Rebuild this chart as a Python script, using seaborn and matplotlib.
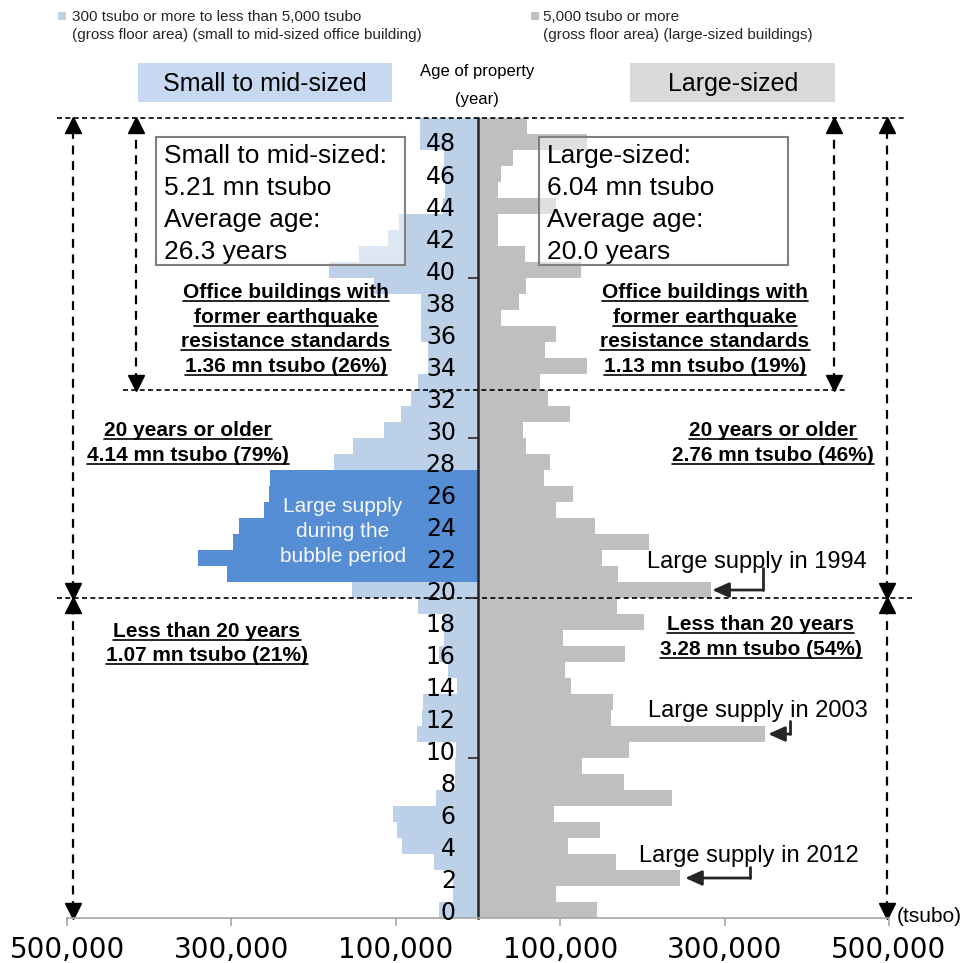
import matplotlib
matplotlib.use('Agg')
import matplotlib.pyplot as plt
from matplotlib.lines import Line2D
from matplotlib.patches import Rectangle
import pandas as pd
import seaborn as sns

sns.set_style('white')
plt.rcParams['font.family'] = ['Liberation Sans', 'DejaVu Sans']

# age of property (years) and floor area (tsubo)
ages = list(range(50))
small_mid = [48000, 31000, 31000, 54000, 92000, 99000, 104000, 51000, 28000, 28000,
             27000, 74000, 68000, 67000, 26000, 37000, 48000, 41000, 41000, 73000,
             153000, 305000, 341000, 298000, 291000, 260000, 254000, 253000, 175000, 152000,
             114000, 94000, 82000, 73000, 61000, 61000, 69000, 69000, 69000, 126000,
             181000, 145000, 110000, 96000, 42000, 40000, 42000, 41000, 70000, 70000]
large = [145000, 95000, 246000, 168000, 110000, 149000, 93000, 236000, 178000, 127000,
         184000, 349000, 162000, 164000, 113000, 106000, 179000, 104000, 202000, 169000,
         283000, 170000, 151000, 208000, 142000, 95000, 116000, 80000, 87000, 58000,
         55000, 112000, 85000, 75000, 133000, 81000, 95000, 28000, 50000, 59000,
         125000, 57000, 24000, 24000, 95000, 24000, 28000, 42000, 133000, 60000]
bubble_ages = [21, 22, 23, 24, 25, 26, 27]

xticks = [-500000, -300000, -100000, 100000, 300000, 500000]
xtick_labels = ['500,000', '300,000', '100,000', '100,000', '300,000', '500,000']
yticks = list(range(0, 50, 2))

colors = {'small': '#BCD0E8', 'bubble': '#558ED5', 'large': '#BFBFBF'}

left = pd.DataFrame({'age': ages, 'area': [-v for v in small_mid],
                     'group': ['bubble' if a in bubble_ages else 'small' for a in ages]})
right = pd.DataFrame({'age': ages, 'area': large, 'group': 'large'})
df = pd.concat([left, right], ignore_index=True)

W, H = 978, 963
fig = plt.figure(figsize=(W / 100, H / 100), dpi=100)
ax = fig.add_axes([67 / W, 45 / H, 822 / W, 800 / H])

sns.barplot(data=df, x='area', y='age', hue='group', orient='h', native_scale=True,
            dodge=False, width=1.0, palette=colors, saturation=1, linewidth=0,
            errorbar=None, legend=False, ax=ax)

ax.set_axisbelow(False)
ax.set_xlim(-500000, 500000)
ax.set_ylim(-0.5, 49.5)
ax.set_xlabel('')
ax.set_ylabel('')
ax.spines['top'].set_visible(False)
ax.spines['right'].set_visible(False)
ax.spines['left'].set_position(('data', 0))
ax.spines['left'].set_color('#262626')
ax.spines['left'].set_linewidth(1.8)
ax.spines['bottom'].set_color('#A6A6A6')
ax.spines['bottom'].set_linewidth(1.2)

ax.set_xticks(xticks)
ax.set_xticklabels(xtick_labels, family='DejaVu Sans')
ax.set_yticks(yticks)
ax.set_yticklabels([str(a) for a in yticks], family='DejaVu Sans')
ax.set_yticks([9.5, 19.5, 29.5, 39.5], minor=True)
ax.tick_params(axis='x', bottom=True, length=6, width=1.2, color='#A6A6A6',
               labelsize=20, labelcolor='black', pad=7, direction='out')
ax.tick_params(axis='y', which='major', left=True, length=0, pad=16, labelsize=17,
               labelcolor='black')
ax.tick_params(axis='y', which='minor', left=True, length=7, width=1.2,
               color='#262626', direction='out')

# dashed separators
dash = dict(color='black', lw=1.2, ls=(0, (3, 2)), clip_on=False)
ax.plot([-512000, 519000], [49.5, 49.5], **dash)
ax.plot([-432000, 450000], [32.5, 32.5], **dash)
ax.plot([-512000, 532000], [19.5, 19.5], **dash)


def span_arrow(x, y0, y1):
    ax.plot([x, x], [y0 + 0.5, y1 - 0.5], color='black', lw=1.6,
            ls=(0, (4, 3)), clip_on=False)
    ax.plot([x], [y1 - 0.45], marker='^', ms=11, color='black', clip_on=False)
    ax.plot([x], [y0 + 0.45], marker='v', ms=11, color='black', clip_on=False)


span_arrow(-493000, 19.5, 49.5)
span_arrow(-493000, -0.5, 19.5)
span_arrow(-416000, 32.5, 49.5)
span_arrow(433000, 32.5, 49.5)
span_arrow(498000, 19.5, 49.5)
span_arrow(498000, -0.5, 19.5)


def supply_arrow(age, tip, corner, top):
    ax.plot([corner, corner], [top, age], color='#262626', lw=2, clip_on=False)
    ax.annotate('', xy=(tip, age), xytext=(corner, age),
                arrowprops=dict(arrowstyle='-|>,head_length=1.0,head_width=0.45',
                                color='#262626', lw=2, shrinkA=0, shrinkB=0))


supply_arrow(20, 285000, 347000, 21.4)
supply_arrow(11, 353000, 380000, 11.8)
supply_arrow(2, 252000, 331000, 2.7)

underlined = []


def label(x, y, s, size, bold=False, ha='center', color='black', underline=False):
    t = fig.text(x / W, 1 - y / H, s, ha=ha, va='baseline', fontsize=size,
                 fontweight='bold' if bold else 'normal', color=color)
    if underline:
        underlined.append((t, y))
    return t


# legend
fig.patches.append(Rectangle((58 / W, 1 - 20 / H), 8 / W, 8 / H, transform=fig.transFigure,
                             facecolor=colors['small'], edgecolor='none'))
fig.patches.append(Rectangle((531 / W, 1 - 20 / H), 8 / W, 8 / H, transform=fig.transFigure,
                             facecolor=colors['large'], edgecolor='none'))
label(72, 21, '300 tsubo or more to less than 5,000 tsubo', 11, ha='left', color='#262626')
label(72, 39, '(gross floor area) (small to mid-sized office building)', 11, ha='left',
      color='#262626')
label(543, 21, '5,000 tsubo or more', 11, ha='left', color='#262626')
label(543, 39, '(gross floor area) (large-sized buildings)', 11, ha='left', color='#262626')

# headers
fig.patches.append(Rectangle((138 / W, 1 - 102 / H), 254 / W, 39 / H, transform=fig.transFigure,
                             facecolor='#C6D9F0', edgecolor='none'))
fig.patches.append(Rectangle((630 / W, 1 - 102 / H), 205 / W, 39 / H, transform=fig.transFigure,
                             facecolor='#D9D9D9', edgecolor='none'))
label(265, 91, 'Small to mid-sized', 18)
label(733, 91, 'Large-sized', 18)
label(477, 76, 'Age of property', 12)
label(477, 104, '(year)', 12)

# summary boxes
for bx in (156, 539):
    fig.patches.append(Rectangle((bx / W, 1 - 265 / H), 249 / W, 128 / H,
                                 transform=fig.transFigure, facecolor=(1, 1, 1, 0.5),
                                 edgecolor='#808080', linewidth=1.5))
for i, s in enumerate(['Small to mid-sized:', '5.21 mn tsubo', 'Average age:', '26.3 years']):
    label(164, 163 + 32 * i, s, 19, ha='left')
for i, s in enumerate(['Large-sized:', '6.04 mn tsubo', 'Average age:', '20.0 years']):
    label(547, 163 + 32 * i, s, 19, ha='left')

# bold underlined annotations
for cx, last in ((286, '1.36 mn tsubo (26%)'), (705, '1.13 mn tsubo (19%)')):
    for i, s in enumerate(['Office buildings with', 'former earthquake',
                           'resistance standards', last]):
        label(cx, 298 + 24.7 * i, s, 15, bold=True, underline=True)
label(188, 436, '20 years or older', 15, bold=True, underline=True)
label(188, 461, '4.14 mn tsubo (79%)', 15, bold=True, underline=True)
label(773, 436, '20 years or older', 15, bold=True, underline=True)
label(773, 461, '2.76 mn tsubo (46%)', 15, bold=True, underline=True)
label(207, 637, 'Less than 20 years', 15, bold=True, underline=True)
label(207, 661, '1.07 mn tsubo (21%)', 15, bold=True, underline=True)
label(761, 630, 'Less than 20 years', 15, bold=True, underline=True)
label(761, 655, '3.28 mn tsubo (54%)', 15, bold=True, underline=True)

# bubble note
for i, s in enumerate(['Large supply', 'during the', 'bubble period']):
    label(343, 512 + 25 * i, s, 15, color='#F7F7F7')

label(647, 568, 'Large supply in 1994', 17, ha='left')
label(648, 717, 'Large supply in 2003', 17, ha='left')
label(639, 862, 'Large supply in 2012', 17, ha='left')
label(897, 922, '(tsubo)', 15, ha='left')

fig.canvas.draw()
for t, y in underlined:
    bb = t.get_window_extent()
    fig.add_artist(Line2D([bb.x0 / W, bb.x1 / W], [1 - (y + 3) / H] * 2,
                          transform=fig.transFigure, color='black', lw=1.2))

fig.savefig('out.png', dpi=100)
